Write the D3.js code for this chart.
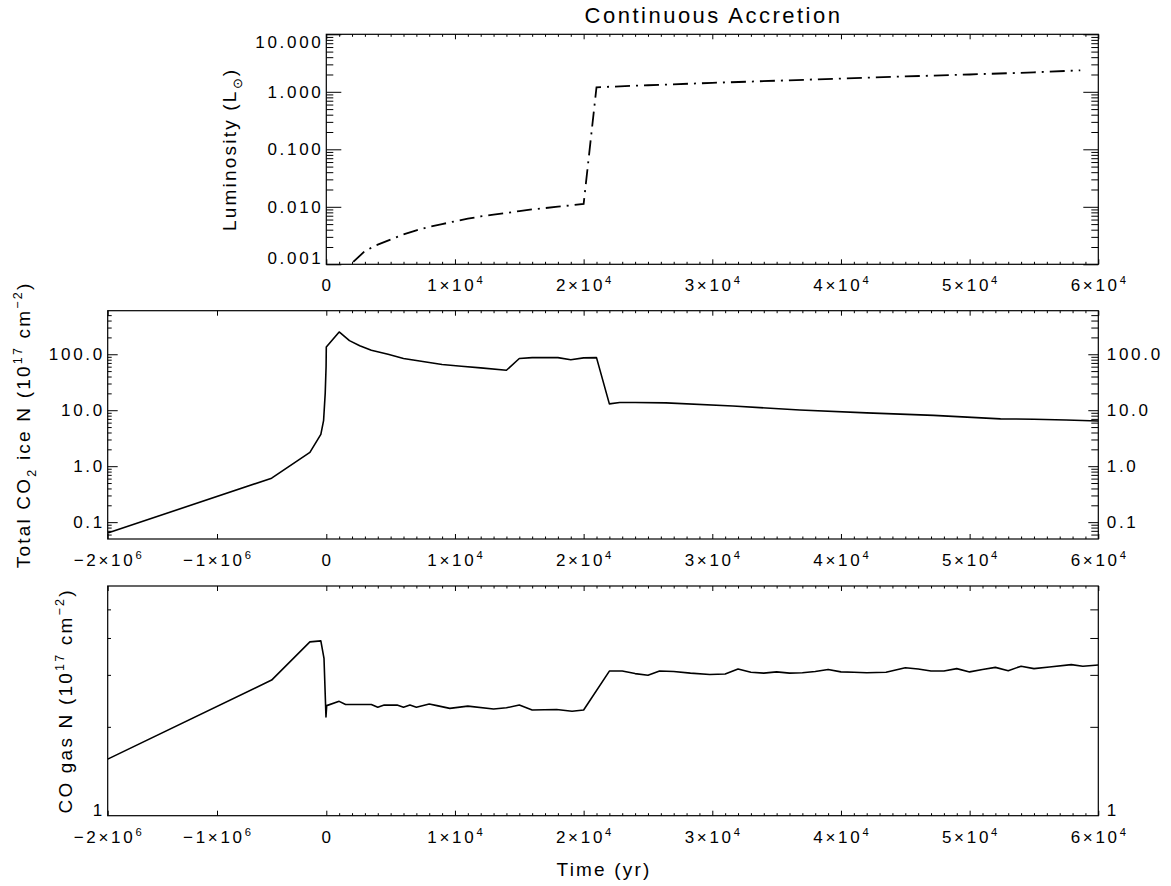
<!DOCTYPE html>
<html>
<head>
<meta charset="utf-8">
<script src="https://cdn.jsdelivr.net/npm/d3@7"></script>
<style>
  html, body { margin: 0; padding: 0; background: #fff; }
  svg { display: block; }
  text { font-family: "Liberation Sans", Arial, Helvetica, sans-serif; fill: #000; }
</style>
</head>
<body>
<svg id="chart" width="1171" height="886"></svg>
<script>
// ---------------- data ----------------
// Luminosity (Lsun) versus time (yr)
const lumTime = [1000, 2000, 3000, 4000, 5000, 6000, 7000, 8000, 9000, 10000,
                 11000, 12000, 13000, 14000, 15000, 16000, 17000, 18000, 19000, 20000,
                 21000, 25000, 30000, 35000, 40000, 45000, 50000, 55000, 58600];
const lumValue = [0.0004, 0.00105, 0.0017, 0.0022, 0.0027, 0.0033, 0.0039, 0.0045, 0.0050, 0.0056,
                  0.0062, 0.0068, 0.0073, 0.0078, 0.0084, 0.0090, 0.0095, 0.0101, 0.0106, 0.0112,
                  1.20, 1.30, 1.43, 1.56, 1.70, 1.85, 2.00, 2.18, 2.36];

// Total CO2 ice column density (1e17 cm^-2)
const iceTime = [-2e6, -5e5, -1.5e5, -5e4, -2.5e4, -1e4, -2e3, 0, 1000, 1800,
                 2600, 3500, 4800, 6000, 7500, 9000, 10500, 12000, 14000, 15000,
                 16000, 17000, 18000, 19000, 20000, 21000, 22000, 22800, 24000, 26400,
                 31600, 36800, 42000, 47200, 52400, 55000, 57500, 60000];
const iceValue = [0.064, 0.61, 1.76, 3.7, 6.5, 20, 60, 135, 250, 175,
                  142, 118, 100, 84, 74, 65.5, 61, 57, 51.8, 84,
                  87, 87, 87, 80, 86, 87, 13.0, 13.7, 13.7, 13.5,
                  11.9, 10.1, 8.95, 8.1, 7.0, 6.9, 6.7, 6.4];

// CO gas column density (1e17 cm^-2)
const gasTime = [-2e6, -5e5, -1.5e5, -5e4, -2.1e4, -3e3, 30, 1000, 1500, 3500,
                 4000, 4500, 5500, 6000, 6500, 7000, 8000, 8600, 9600, 11000,
                 13000, 14000, 15000, 16000, 17900, 19100, 20000, 22000, 23000, 24000,
                 25000, 25900, 27000, 28300, 29800, 31000, 32000, 33000, 34000, 35000,
                 36000, 37000, 38000, 39000, 40000, 41000, 42000, 43500, 45000, 46000,
                 47000, 48000, 49000, 50000, 51000, 52000, 53000, 54000, 55000, 56200,
                 57900, 58800, 60000];
const gasValue = [1.555, 2.88, 3.88, 3.91, 3.41, 2.16, 2.36, 2.44, 2.38, 2.38,
                  2.33, 2.37, 2.37, 2.33, 2.37, 2.33, 2.39, 2.36, 2.31, 2.35,
                  2.30, 2.32, 2.37, 2.28, 2.29, 2.26, 2.28, 3.09, 3.09, 3.03,
                  2.99, 3.09, 3.08, 3.04, 3.01, 3.02, 3.14, 3.06, 3.04, 3.07,
                  3.04, 3.05, 3.08, 3.13, 3.07, 3.06, 3.05, 3.06, 3.17, 3.14,
                  3.09, 3.09, 3.15, 3.07, 3.13, 3.18, 3.10, 3.21, 3.15, 3.19,
                  3.25, 3.21, 3.24];

// Axis ticks and labels
const timeTicksTop = [0, 1e4, 2e4, 3e4, 4e4, 5e4, 6e4];
const timeTicksMain = [-2e6, -1e6, 0, 1e4, 2e4, 3e4, 4e4, 5e4, 6e4];
const lumTickValues = [0.001, 0.01, 0.1, 1, 10];
const lumTickLabels = ["0.001", "0.010", "0.100", "1.000", "10.000"];
const iceTickValues = [0.1, 1, 10, 100];
const iceTickLabels = ["0.1", "1.0", "10.0", "100.0"];
const gasTickValues = [1];
const gasTickLabels = ["1"];
const gasMinorValues = [2, 3, 4, 5];

// ---------------- layout ----------------
const svg = d3.select("#chart");
const P = {
  lum: { left: 326.3, right: 1098.3, top: 34.3, bottom: 264.3 },
  ice: { left: 107.7, right: 1098.3, top: 310.7, bottom: 539 },
  gas: { left: 107.7, right: 1098.3, top: 586, bottom: 815.7 }
};
const zeroX = 326.3; // where the compressed pre-stellar interval meets t = 0

const xLum = d3.scaleLinear().domain([0, 6e4]).range([P.lum.left, P.lum.right]);
const xMain = d3.scaleLinear().domain([-2e6, 0, 6e4]).range([P.ice.left, zeroX, P.ice.right]);
const yLum = d3.scaleLog().domain([1e-3, 10]).range([P.lum.bottom, P.lum.top]);
const yIce = d3.scaleLog().domain([0.05, 600]).range([P.ice.bottom, P.ice.top]);
const yGas = d3.scaleLog().domain([1, 6]).range([P.gas.bottom, P.gas.top]);

const TICK_FS = 17, TICK_LS = 2.7;
const TITLE_FS = 19, TITLE_LS = 2.2;

// rich text helper: parts with optional sup/sub
function rich(textSel, parts, fs) {
  let shift = 0;
  parts.forEach(p => {
    const ts = textSel.append("tspan").text(p.t);
    const target = p.sup ? -0.42 * fs : (p.sub ? 0.3 * fs : 0);
    if (target - shift !== 0) ts.attr("dy", target - shift);
    shift = target;
    if (p.sup || p.sub) ts.attr("font-size", fs * 0.66);
  });
}

function timeParts(t) {
  if (t === 0) return [{ t: "0" }];
  const e = Math.abs(t) >= 1e6 ? 6 : 4;
  const m = t / Math.pow(10, e);
  return [{ t: (m < 0 ? "\u2212" : "") + Math.abs(m) + "\u00d710" }, { t: String(e), sup: true }];
}

// minor tick values for a log domain
function logMinors(lo, hi) {
  const out = [];
  for (let e = Math.floor(Math.log10(lo)); e <= Math.ceil(Math.log10(hi)); e++) {
    for (let k = 2; k <= 9; k++) {
      const v = k * Math.pow(10, e);
      if (v > lo * 1.0001 && v < hi * 0.9999) out.push(v);
    }
  }
  return out;
}

function stripAxis(g) {
  g.select(".domain").remove();
  g.selectAll("text").remove();
  g.selectAll(".tick line").attr("stroke", "#000").attr("stroke-width", 1);
}

function drawTimeTicks(p, x, majors, minors) {
  [[d3.axisBottom, p.bottom], [d3.axisTop, p.top]].forEach(([ax, y]) => {
    svg.append("g").attr("transform", `translate(0,${y})`)
      .call(ax(x).tickValues(majors).tickSize(-5).tickFormat("")).call(stripAxis);
    svg.append("g").attr("transform", `translate(0,${y})`)
      .call(ax(x).tickValues(minors).tickSize(-2.5).tickFormat("")).call(stripAxis);
  });
}

function drawYTicks(p, y, majors, minors, lenL, lenR) {
  svg.append("g").attr("transform", `translate(${p.left},0)`)
    .call(d3.axisLeft(y).tickValues(majors).tickSize(-lenL[0]).tickFormat("")).call(stripAxis);
  svg.append("g").attr("transform", `translate(${p.left},0)`)
    .call(d3.axisLeft(y).tickValues(minors).tickSize(-lenL[1]).tickFormat("")).call(stripAxis);
  svg.append("g").attr("transform", `translate(${p.right},0)`)
    .call(d3.axisRight(y).tickValues(majors).tickSize(-lenR[0]).tickFormat("")).call(stripAxis);
  svg.append("g").attr("transform", `translate(${p.right},0)`)
    .call(d3.axisRight(y).tickValues(minors).tickSize(-lenR[1]).tickFormat("")).call(stripAxis);
}

function yLabels(p, y, values, labels, side) {
  values.forEach((v, i) => {
    const base = Math.max(p.top + 14, Math.min(p.bottom, y(v) + 6.1));
    const t = svg.append("text")
      .attr("y", base)
      .attr("font-size", TICK_FS)
      .attr("letter-spacing", TICK_LS)
      .text(labels[i]);
    if (side === "left") t.attr("x", p.left - 5.5 + TICK_LS).attr("text-anchor", "end");
    else t.attr("x", p.right + 8.5).attr("text-anchor", "start");
  });
}

function xLabels(p, x, ticks) {
  ticks.forEach(tv => {
    const t = svg.append("text")
      .attr("x", x(tv) + TICK_LS / 2)
      .attr("y", p.bottom + 27)
      .attr("font-size", TICK_FS)
      .attr("letter-spacing", TICK_LS)
      .attr("text-anchor", "middle");
    rich(t, timeParts(tv), TICK_FS);
  });
}

function yTitle(xBase, yMid, parts) {
  const t = svg.append("text")
    .attr("transform", `translate(${xBase},${yMid}) rotate(-90)`)
    .attr("font-size", TITLE_FS)
    .attr("letter-spacing", TITLE_LS)
    .attr("text-anchor", "middle");
  rich(t, parts, TITLE_FS);
}

function clip(id, p) {
  svg.append("clipPath").attr("id", id).append("rect")
    .attr("x", p.left).attr("y", p.top)
    .attr("width", p.right - p.left).attr("height", p.bottom - p.top);
}

function frame(p) {
  svg.append("rect")
    .attr("x", p.left).attr("y", p.top)
    .attr("width", p.right - p.left).attr("height", p.bottom - p.top)
    .attr("fill", "none").attr("stroke", "#000").attr("stroke-width", 1.2);
}

const minorTimes = d3.range(1000, 60000, 1000).filter(v => v % 10000 !== 0);

// ---------------- top panel: luminosity ----------------
clip("clipLum", P.lum);
drawTimeTicks(P.lum, xLum, timeTicksTop, minorTimes);
drawYTicks(P.lum, yLum, lumTickValues, logMinors(1e-3, 10), [15, 7], [15, 7]);
frame(P.lum);
svg.append("path")
  .datum(d3.zip(lumTime, lumValue))
  .attr("clip-path", "url(#clipLum)")
  .attr("fill", "none").attr("stroke", "#000").attr("stroke-width", 1.8)
  .attr("stroke-dasharray", "15,6,2,6")
  .attr("d", d3.line().x(d => xLum(d[0])).y(d => yLum(d[1])));
yLabels(P.lum, yLum, lumTickValues, lumTickLabels, "left");
xLabels(P.lum, xLum, timeTicksTop);
svg.append("text")
  .attr("x", (P.lum.left + P.lum.right) / 2 + 1.2)
  .attr("y", 23.3)
  .attr("font-size", 22).attr("letter-spacing", 2.5)
  .attr("text-anchor", "middle")
  .text("Continuous Accretion");
yTitle(236, (P.lum.top + P.lum.bottom) / 2,
  [{ t: "Luminosity (L" }, { t: "\u2299", sub: true }, { t: ")" }]);

// ---------------- middle panel: CO2 ice ----------------
clip("clipIce", P.ice);
drawTimeTicks(P.ice, xMain, timeTicksMain, minorTimes);
drawYTicks(P.ice, yIce, iceTickValues, logMinors(0.05, 600), [10, 4], [10, 7]);
frame(P.ice);
svg.append("path")
  .datum(d3.zip(iceTime, iceValue))
  .attr("clip-path", "url(#clipIce)")
  .attr("fill", "none").attr("stroke", "#000").attr("stroke-width", 1.6)
  .attr("stroke-linejoin", "round")
  .attr("d", d3.line().x(d => xMain(d[0])).y(d => yIce(d[1])));
yLabels(P.ice, yIce, iceTickValues, iceTickLabels, "left");
yLabels(P.ice, yIce, iceTickValues, iceTickLabels, "right");
xLabels(P.ice, xMain, timeTicksMain);
yTitle(30, (P.ice.top + P.ice.bottom) / 2,
  [{ t: "Total CO" }, { t: "2", sub: true }, { t: " ice N (10" }, { t: "17", sup: true },
   { t: " cm" }, { t: "\u22122", sup: true }, { t: ")" }]);

// ---------------- bottom panel: CO gas ----------------
clip("clipGas", P.gas);
drawTimeTicks(P.gas, xMain, timeTicksMain, minorTimes);
drawYTicks(P.gas, yGas, gasMinorValues, [], [3.3, 0], [8, 0]);
frame(P.gas);
svg.append("path")
  .datum(d3.zip(gasTime, gasValue))
  .attr("clip-path", "url(#clipGas)")
  .attr("fill", "none").attr("stroke", "#000").attr("stroke-width", 1.6)
  .attr("stroke-linejoin", "round")
  .attr("d", d3.line().x(d => xMain(d[0])).y(d => yGas(d[1])));
yLabels(P.gas, yGas, gasTickValues, gasTickLabels, "left");
yLabels(P.gas, yGas, gasTickValues, gasTickLabels, "right");
xLabels(P.gas, xMain, timeTicksMain);
yTitle(72, (P.gas.top + P.gas.bottom) / 2,
  [{ t: "CO gas N (10" }, { t: "17", sup: true }, { t: " cm" }, { t: "\u22122", sup: true }, { t: ")" }]);

svg.append("text")
  .attr("x", (P.gas.left + P.gas.right) / 2 + 1.1)
  .attr("y", 876)
  .attr("font-size", TITLE_FS).attr("letter-spacing", TITLE_LS)
  .attr("text-anchor", "middle")
  .text("Time (yr)");
</script>
</body>
</html>
